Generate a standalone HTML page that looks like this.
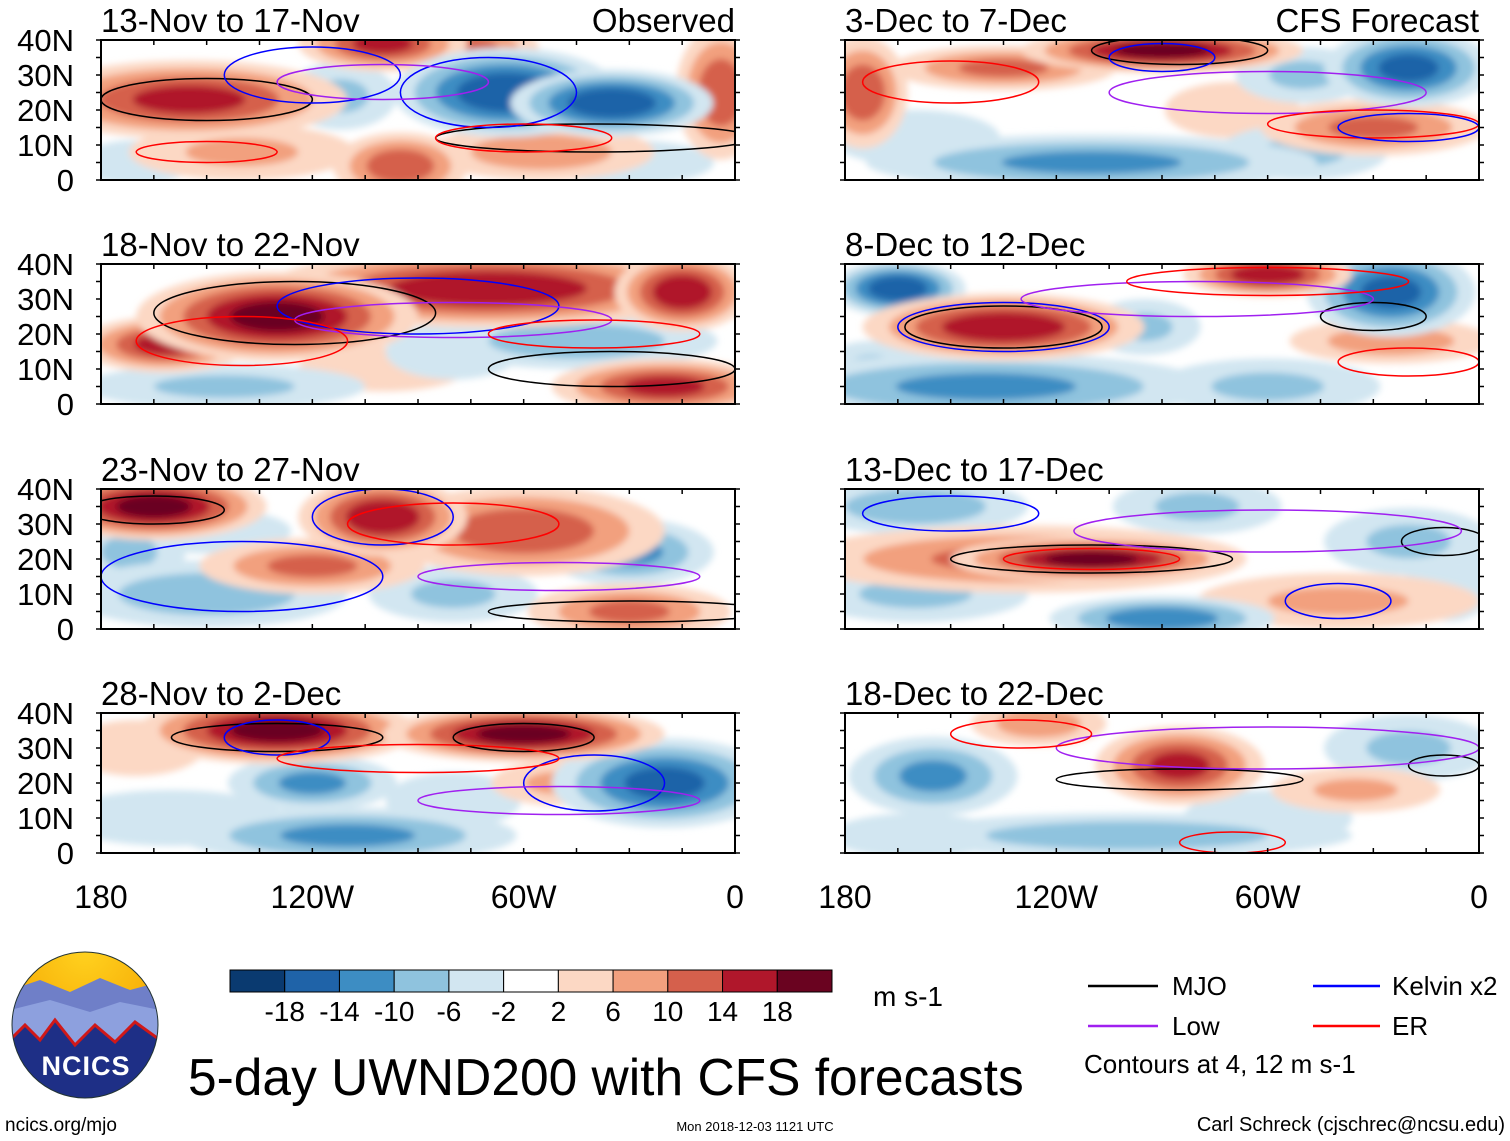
<!DOCTYPE html>
<html><head><meta charset="utf-8">
<style>
html,body{margin:0;padding:0;background:#fff;}
svg{display:block;font-family:"Liberation Sans",sans-serif;}
</style></head>
<body>
<svg id="chart" width="1510" height="1141" viewBox="0 0 1510 1141">
<defs>
<filter id="blur" x="-50%" y="-50%" width="200%" height="200%"><feGaussianBlur stdDeviation="3.5"/></filter>
<radialGradient id="sky" cx="50%" cy="0%" r="70%"><stop offset="0" stop-color="#ffd21f"/><stop offset="1" stop-color="#f5a300"/></radialGradient>
<clipPath id="logoclip"><circle cx="85" cy="1025" r="73"/></clipPath>
</defs>
<g id="panels"></g>
<g id="colorbar"></g>
<text x="873" y="1006" font-size="28">m s-1</text>
<g>
<g clip-path="url(#logoclip)">
<rect x="10" y="950" width="150" height="150" fill="url(#sky)"/>
<path d="M10 990 L40 980 L70 992 L100 978 L130 990 L160 982 L160 1100 L10 1100Z" fill="#6f7fc8"/>
<path d="M10 1010 L50 1000 L90 1012 L120 1002 L160 1010 L160 1100 L10 1100Z" fill="#8da0de"/>
<path d="M10 1040 L25 1025 L40 1040 L55 1020 L75 1045 L95 1025 L115 1042 L135 1022 L160 1040 L160 1100 L10 1100Z" fill="#1e2f86" stroke="#d01818" stroke-width="3"/>
</g>
<circle cx="85" cy="1025" r="73" fill="none" stroke="#233" stroke-width="1"/>
<text x="86" y="1075" font-size="27" font-weight="bold" fill="#fff" text-anchor="middle" letter-spacing="1">NCICS</text>
</g>
<text x="188" y="1095" font-size="51.5">5-day UWND200 with CFS forecasts</text>
<g>
<line x1="1088" y1="986" x2="1158" y2="986" stroke="#000" stroke-width="2.5"/>
<text x="1172" y="995" font-size="26">MJO</text>
<line x1="1313" y1="986" x2="1380" y2="986" stroke="#0000ff" stroke-width="2.5"/>
<text x="1392" y="995" font-size="26">Kelvin x2</text>
<line x1="1088" y1="1026" x2="1158" y2="1026" stroke="#a020f0" stroke-width="2.5"/>
<text x="1172" y="1035" font-size="26">Low</text>
<line x1="1313" y1="1026" x2="1380" y2="1026" stroke="#ff0000" stroke-width="2.5"/>
<text x="1392" y="1035" font-size="26">ER</text>
<text x="1084" y="1073" font-size="26">Contours at 4, 12 m s-1</text>
</g>
<text x="5" y="1131" font-size="19">ncics.org/mjo</text>
<text x="755" y="1131" font-size="13" text-anchor="middle">Mon 2018-12-03 1121 UTC</text>
<text x="1505" y="1131" font-size="20" text-anchor="end">Carl Schreck (cjschrec@ncsu.edu)</text>
</svg>
<script>
const panelTitles = ["13-Nov to 17-Nov","18-Nov to 22-Nov","23-Nov to 27-Nov","28-Nov to 2-Dec","3-Dec to 7-Dec","8-Dec to 12-Dec","13-Dec to 17-Dec","18-Dec to 22-Dec"];
const latTicks = [0,10,20,30,40];
const latLabels = ["0","10N","20N","30N","40N"];
const lonTicks = [-180,-120,-60,0];
const lonLabels = ["180","120W","60W","0"];
const cbLevels = [-18,-14,-10,-6,-2,2,6,10,14,18];
const cbColors = ["#0a3a70","#1f63a8","#3d8dc3","#8fc3de","#d2e6f1","#ffffff","#fcd8c4","#f2a07e","#d5604c","#b0172b","#6a0320"];
// blobs: [lon, lat, lonRadius, latRadius, value(m/s)]
const fields = [
 [[-155,23,28,7,14],[-100,39,15,5,14],[-65,25,20,8,-16],[-35,22,18,6,-16],[-95,4,12,6,12],[-4,25,8,12,12],[-55,8,20,5,8],[-140,8,20,5,6],[-112,24,10,6,-6],[-75,38,12,4,10],[-170,5,10,4,-4],[-30,5,15,4,-4]],
 [[-130,25,25,8,18],[-162,17,15,5,14],[-70,33,40,7,16],[-15,32,12,7,16],[-20,5,20,5,14],[-45,18,25,5,-8],[-145,5,25,4,-6],[-100,10,15,4,4],[-80,15,12,5,-4]],
 [[-165,35,20,6,18],[-100,32,15,7,16],[-60,28,25,8,12],[-120,18,20,5,10],[-150,10,25,6,-8],[-30,22,15,6,-10],[-30,5,18,5,10],[-80,10,15,5,-6],[-172,22,10,6,-6],[-150,28,15,4,-4]],
 [[-130,35,25,6,18],[-60,34,25,5,18],[-20,20,20,8,-14],[-120,20,15,5,-10],[-110,5,30,5,-10],[-50,20,12,4,6],[-160,10,20,5,-4],[-170,30,12,5,4],[-80,15,12,5,-4]],
 [[-90,37,25,4,18],[-175,25,8,10,12],[-135,32,20,4,10],[-20,32,15,7,-14],[-50,30,12,5,-6],[-110,5,40,5,-10],[-30,15,20,5,10],[-70,20,12,5,4],[-50,8,15,5,-6],[-160,12,15,5,-4]],
 [[-165,33,12,5,-16],[-135,22,25,6,16],[-60,37,15,4,16],[-25,32,15,8,-14],[-140,5,40,6,-10],[-60,5,20,5,-6],[-25,18,18,4,8],[-172,10,10,5,-6],[-95,22,10,5,-6]],
 [[-110,20,25,4,18],[-130,20,40,6,10],[-160,35,20,5,-8],[-80,35,15,5,-6],[-90,3,20,4,-12],[-160,10,20,5,-6],[-20,25,15,6,-6],[-40,8,25,5,6],[-8,15,8,8,-4]],
 [[-85,25,15,7,14],[-155,22,15,7,-10],[-125,37,12,4,8],[-100,5,40,4,-8],[-20,30,15,6,-6],[-35,18,15,4,6],[-60,10,15,5,-4],[-160,5,15,4,-4]]
];
// contour ellipses: [type, lon, lat, lonRadius, latRadius]
const contours = [
 [["mjo",-150,23,30,6],["mjo",-40,12,45,4],["kelvin",-120,30,25,8],["kelvin",-70,25,25,10],["low",-100,28,30,5],["er",-60,12,25,4],["er",-150,8,20,3]],
 [["mjo",-125,26,40,9],["mjo",-35,10,35,5],["kelvin",-90,28,40,8],["low",-80,24,45,5],["er",-140,18,30,7],["er",-40,20,30,4]],
 [["mjo",-165,34,20,4],["mjo",-30,5,40,3],["kelvin",-100,32,20,8],["kelvin",-140,15,40,10],["low",-50,15,40,4],["er",-80,30,30,6]],
 [["mjo",-130,33,30,4],["mjo",-60,33,20,4],["kelvin",-130,33,15,5],["kelvin",-40,20,20,8],["low",-50,15,40,4],["er",-90,27,40,4]],
 [["mjo",-85,37,25,4],["kelvin",-90,35,15,4],["low",-60,25,45,6],["er",-150,28,25,6],["er",-30,16,30,4],["kelvin",-20,15,20,4]],
 [["mjo",-135,22,28,6],["mjo",-30,25,15,4],["kelvin",-135,22,30,7],["low",-80,30,50,5],["er",-60,35,40,4],["er",-20,12,20,4]],
 [["mjo",-110,20,40,4],["mjo",-10,25,12,4],["kelvin",-150,33,25,5],["low",-60,28,55,6],["er",-110,20,25,3],["kelvin",-40,8,15,5]],
 [["mjo",-85,21,35,3],["mjo",-10,25,10,3],["low",-60,30,60,6],["er",-130,34,20,4],["er",-70,3,15,3]]
];
const lineColors = {mjo:"#000000",kelvin:"#0000ff",low:"#a020f0",er:"#ff0000"};
const RS = 1.6; // visual radius scale
const NS="http://www.w3.org/2000/svg";
function mk(tag, attrs, parent){const e=document.createElementNS(NS,tag);for(const k in attrs)e.setAttribute(k,attrs[k]);parent.appendChild(e);return e;}
function colorFor(v){let i=0;while(i<cbLevels.length && v>cbLevels[i])i++;return cbColors[i];}
const colX=[101,845], rowY=[40,264,489,713], PW=634, PH=140;
const panelsG=document.getElementById('panels');
for(let p=0;p<8;p++){
  const col=Math.floor(p/4), row=p%4;
  const x0=colX[col], y0=rowY[row];
  const xs=lon=>x0+(lon+180)/180*PW;
  const ys=lat=>y0+PH-lat/40*PH;
  const g=mk('g',{},panelsG);
  
  
  const cp=mk('clipPath',{id:'clip'+p},g);
  mk('rect',{x:x0,y:y0,width:PW,height:PH},cp);
  const inner=mk('g',{'clip-path':'url(#clip'+p+')'},g);
  mk('rect',{x:x0,y:y0,width:PW,height:PH,fill:'#fff'},inner);
  const fg=mk('g',{filter:'url(#blur)'},inner);
  const fld=fields[p].slice().sort((a,b)=>Math.abs(a[4])-Math.abs(b[4]));
  fld.forEach(b=>{
    const v=b[4], s=Math.sign(v), a=Math.abs(v);
    for(let lv=2; lv<=a+0.01; lv+=4){
      const f=1-0.75*(lv-2)/a;
      const e=mk('ellipse',{cx:xs(b[0]),cy:ys(b[1]),rx:Math.max(2,(b[2]/180*PW)*f*RS),ry:Math.max(2,(b[3]/40*PH)*f*RS),fill:colorFor(s*(lv+1))},fg);
      
      
    }
  });
  contours[p].forEach(c=>{
    const e=mk('ellipse',{cx:xs(c[1]),cy:ys(c[2]),rx:c[3]/180*PW,ry:c[4]/40*PH,fill:'none',stroke:lineColors[c[0]],'stroke-width':1.5},inner);
    
    
  });
  mk('rect',{x:x0,y:y0,width:PW,height:PH,fill:'none',stroke:'#000','stroke-width':2},g);
  for(let lon=-180;lon<=0;lon+=15){
    mk('line',{x1:xs(lon),x2:xs(lon),y1:y0,y2:y0+5,stroke:'#000','stroke-width':1.5},g);
    mk('line',{x1:xs(lon),x2:xs(lon),y1:y0+PH,y2:y0+PH-5,stroke:'#000','stroke-width':1.5},g);
  }
  for(let lat=0;lat<=40;lat+=5){
    mk('line',{x1:x0-5,x2:x0,y1:ys(lat),y2:ys(lat),stroke:'#000','stroke-width':1.5},g);
    mk('line',{x1:x0+PW,x2:x0+PW+5,y1:ys(lat),y2:ys(lat),stroke:'#000','stroke-width':1.5},g);
  }
  const t=mk('text',{x:x0,y:y0-8,'font-size':33},g);t.textContent=panelTitles[p];
  
  
  if(row===0){const r=mk('text',{x:x0+PW,y:y0-8,'font-size':33,'text-anchor':'end'},g);r.textContent=col===0?'Observed':'CFS Forecast';
    
    }
  if(col===0){latTicks.forEach((lat,i)=>{const l=mk('text',{x:74,y:ys(lat)+11,'font-size':31,'text-anchor':'end'},g);l.textContent=latLabels[i];
    
    });}
  if(row===3){lonTicks.forEach((lon,i)=>{const l=mk('text',{x:xs(lon),y:908,'font-size':32,'text-anchor':'middle'},g);l.textContent=lonLabels[i];
    
    });}
}
const cb=document.getElementById('colorbar');
const cbx=230, cbw=602/cbColors.length;
cbColors.forEach((c,i)=>{const r=mk('rect',{x:cbx+i*cbw,y:970,width:cbw,height:22,fill:c,stroke:'#000','stroke-width':1},cb);
  
  });
cbLevels.forEach((v,i)=>{const t=mk('text',{x:cbx+(i+1)*cbw,y:1021,'font-size':28,'text-anchor':'middle'},cb);t.textContent=v;
  
  });
</script>
</body></html>
